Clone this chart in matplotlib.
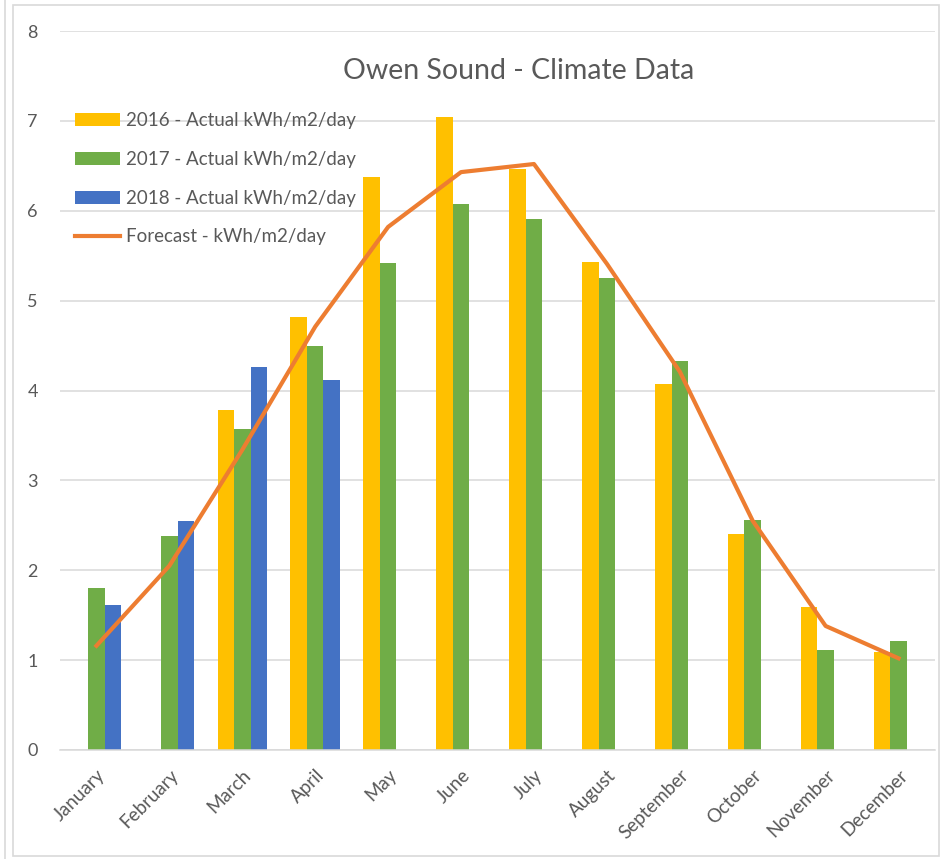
import numpy as np
import matplotlib
matplotlib.use("Agg")
import matplotlib.pyplot as plt
from matplotlib.patches import Rectangle
from matplotlib.lines import Line2D

plt.rcParams["font.family"] = ["Lato", "DejaVu Sans"]

months = ["January", "February", "March", "April", "May", "June", "July",
          "August", "September", "October", "November", "December"]
nan = np.nan
act_2016 = [nan, nan, 3.78, 4.82, 6.38, 7.04, 6.47, 5.43, 4.07, 2.40, 1.59, 1.09]
act_2017 = [1.80, 2.38, 3.57, 4.49, 5.42, 6.07, 5.91, 5.25, 4.33, 2.56, 1.11, 1.21]
act_2018 = [1.61, 2.55, 4.26, 4.12, nan, nan, nan, nan, nan, nan, nan, nan]
forecast = [1.16, 2.05, 3.34, 4.71, 5.82, 6.43, 6.52, 5.41, 4.21, 2.55, 1.38, 1.02]

labels = ["2016 - Actual kWh/m2/day", "2017 - Actual kWh/m2/day",
          "2018 - Actual kWh/m2/day", "Forecast - kWh/m2/day"]
C16 = "#FFC000"; C17 = "#70AD47"; C18 = "#4472C4"; CF = "#ED7D31"
TXT = "#595959"; GRID = "#D9D9D9"

W, H = 941, 859
fig = plt.figure(figsize=(W / 100, H / 100), dpi=100)
ax = fig.add_axes([60 / W, (H - 750) / H, 875 / W, 719 / H])

# outer chart border like the spreadsheet frame
fig.patches.append(Rectangle((13 / W, 3 / H), 926 / W, 851 / H, transform=fig.transFigure,
                             fill=False, edgecolor=GRID, lw=1.2))
fig.add_artist(Line2D([5 / W, 5 / W], [0, 1], transform=fig.transFigure, color=GRID, lw=1.2))

x = np.arange(len(months))
w = 0.226
b16 = ax.bar(x - w, act_2016, w, color=C16, zorder=2)
b17 = ax.bar(x, act_2017, w, color=C17, zorder=2)
b18 = ax.bar(x + w, act_2018, w, color=C18, zorder=2)
ln, = ax.plot(x, forecast, color=CF, lw=3, zorder=3, solid_joinstyle="round")

ax.set_xlim(-0.5, 11.5)
ax.set_ylim(0, 8)
ax.set_yticks(range(9))
ax.grid(axis="y", color=GRID, lw=1.1, zorder=0)
ax.set_axisbelow(True)
for s in ["top", "right", "left"]:
    ax.spines[s].set_visible(False)
ax.spines["bottom"].set_color(GRID)
ax.spines["bottom"].set_linewidth(1.1)
ax.tick_params(length=0)
ax.tick_params(axis="y", labelsize=13, labelcolor=TXT, pad=16)
ax.set_xticks(x)
ax.set_xticklabels(months, rotation=45, ha="right", va="top", rotation_mode="anchor",
                   fontsize=13.5, color=TXT)
ax.tick_params(axis="x", pad=12)

ax.text(0.524, 0.945, "Owen Sound - Climate Data", transform=ax.transAxes, ha="center",
        va="center", fontsize=20.5, color=TXT)

leg = ax.legend([b16, b17, b18, ln], labels, loc="upper left",
                bbox_to_anchor=(0.017, 0.887), frameon=False,
                fontsize=13.5, handlelength=2.4, handleheight=0.7, handletextpad=0.3,
                labelspacing=1.16, borderpad=0, borderaxespad=0)
for t in leg.get_texts():
    t.set_color(TXT)

fig.savefig("out.png", dpi=100)
